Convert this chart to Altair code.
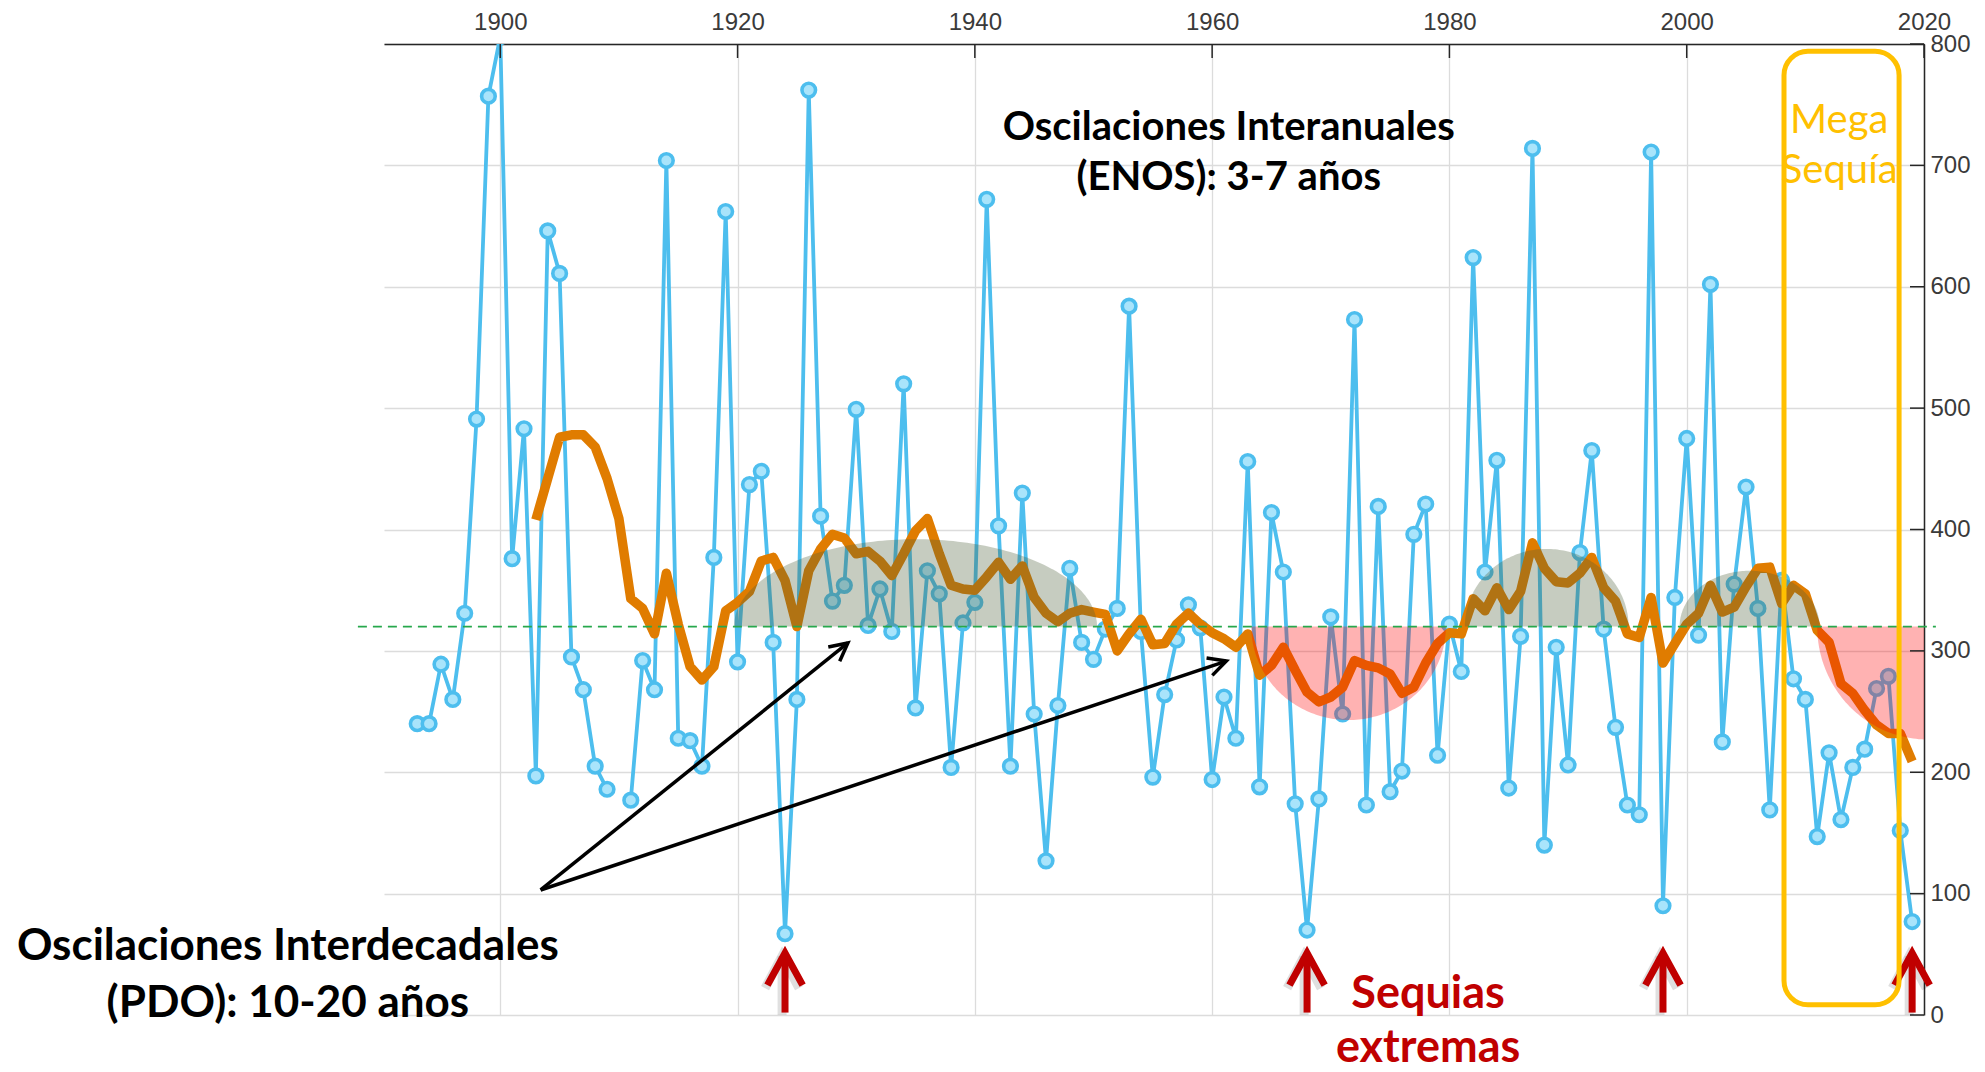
import altair as alt
import numpy as np
import pandas as pd

# ------------------------------------------------------------------ data
years = list(range(1893, 2020))
rain = (
    [240, 240, 289, 260, 331, 491, 757]                              # 1893-1899
    + [806, 376, 483, 197, 646, 611, 295, 268, 205, 186]              # 1900s
    + [None, 177, 292, 268, 704, 228, 226, 205, 377, 662]             # 1910s
    + [291, 437, 448, 307, 67, 260, 762, 411, 341, 354]               # 1920s
    + [499, 321, 351, 316, 520, 253, 366, 347, 204, 323]              # 1930s
    + [340, 672, 403, 205, 430, 248, 127, 255, 368, 307]              # 1940s
    + [293, 318, 335, 584, 316, 196, 264, 309, 338, 319]              # 1950s
    + [194, 262, 228, 456, 188, 414, 365, 174, 70, 178]               # 1960s
    + [328, 248, 573, 173, 419, 184, 201, 396, 421, 214]              # 1970s
    + [322, 283, 624, 365, 457, 187, 312, 714, 140, 303]              # 1980s
    + [206, 381, 465, 318, 237, 173, 165, 711, 90, 344]               # 1990s
    + [475, 313, 602, 225, 355, 435, 335, 169, 358, 277]              # 2000s
    + [260, 147, 216, 161, 204, 219, 269, 279, 152, 77]               # 2010s
)

trend_years = list(range(1903, 2020))
trend = (
    [408, 442, 476, 478, 478, 468, 442]
    + [409, 343, 335, 314, 364, 322, 287, 276, 287, 333]
    + [340, 349, 374, 377, 358, 320, 366, 384, 396, 393]
    + [380, 382, 374, 362, 380, 399, 409, 380, 354, 351]
    + [350, 361, 373, 359, 370, 344, 331, 324, 331, 334]
    + [332, 330, 300, 314, 326, 305, 306, 322, 331, 322]
    + [315, 310, 303, 314, 280, 288, 303, 284, 266, 258]
    + [262, 270, 292, 288, 286, 281, 265, 270, 290, 306]
    + [315, 314, 343, 333, 352, 334, 349, 389, 368, 357]
    + [356, 364, 377, 352, 341, 314, 311, 344, 290, 306]
    + [322, 331, 354, 332, 336, 353, 368, 369, 339, 354]
    + [347, 317, 307, 273, 265, 251, 239, 232, 232, 209]
)

x_ticks = [1900, 1920, 1940, 1960, 1980, 2000, 2020]
y_ticks = [0, 100, 200, 300, 400, 500, 600, 700, 800]

ref_level = 320
green_cx = [1935.0, 1988.2, 2005.3]
green_halfwidth = [15.3, 6.9, 5.9]
green_height = [72, 64, 46]
red_cx = [1971.5, 2020.3]
red_halfwidth = [8.2, 9.3]
red_depth = [77, 93]

drought_years = [1924, 1968, 1998, 2019]

top_lines = ["Oscilaciones Interanuales", "(ENOS): 3-7 años"]
left_lines = ["Oscilaciones Interdecadales", "(PDO): 10-20 años"]
drought_lines = ["Sequias", "extremas"]
mega_lines = ["Mega", "Sequía"]

# ------------------------------------------------------------------ styling
W, H = 1540, 971
BLUE = "#4DBEEE"
ORANGE = "#E07C00"
DARKRED = "#C00000"
GOLD = "#FFC000"

xs = alt.Scale(domain=[1890.2, 2020], nice=False, zero=False)
ys = alt.Scale(domain=[0, 800], nice=False, zero=False)

x_axis = alt.Axis(orient="top", values=x_ticks, format="d", grid=True,
                  gridColor="#dcdcdc", gridWidth=1.3, domainColor="#262626",
                  domainWidth=1.5, ticks=False, tickSize=0,
                  labelFont="Liberation Sans", labelFontSize=24,
                  labelColor="#3a3a3a", labelPadding=10, labelFlush=False,
                  labelOverlap=False, title=None)
y_axis = alt.Axis(orient="right", values=y_ticks, format="d", grid=True,
                  gridColor="#dcdcdc", gridWidth=1.3, domainColor="#262626",
                  domainWidth=1.5, ticks=False, tickSize=0,
                  labelFont="Liberation Sans", labelFontSize=24,
                  labelColor="#3a3a3a", labelPadding=6, labelFlush=False,
                  labelOverlap=False, title=None)


def X(f):
    return alt.X(f, type="quantitative", scale=xs, axis=x_axis, title=None)


def Y(f):
    return alt.Y(f, type="quantitative", scale=ys, axis=y_axis, title=None)


# ------------------------------------------------------------------ tables
rain_df = pd.DataFrame({"year": years, "value": rain}).dropna()
rain_df["seg"] = (rain_df["year"] > 1910).astype(int)
trend_df = pd.DataFrame({"year": trend_years, "value": trend})


def ellipse_rows(cxs, aws, hs, sign):
    rows = []
    t = np.linspace(0, np.pi, 121)
    for i, (cx, a, h) in enumerate(zip(cxs, aws, hs)):
        for tt in t:
            rows.append({"id": i, "x": cx - a * np.cos(tt),
                         "y": ref_level + sign * h * np.sin(tt),
                         "b": ref_level})
    return pd.DataFrame(rows)


green_df = ellipse_rows(green_cx, green_halfwidth, green_height, 1)
red_df = ellipse_rows(red_cx, red_halfwidth, red_depth, -1)

xtick_df = pd.DataFrame({"year": x_ticks})
ytick_df = pd.DataFrame({"v": y_ticks})

ref_df = pd.DataFrame({"x0": [1888.0], "x1": [2021.0], "y": [ref_level]})

arrow_df = pd.DataFrame({"x0": [1903.4, 1903.4], "y0": [103, 103],
                         "x1": [1929.3, 1961.2], "y1": [306.5, 291.6],
                         "ang": [321.2, 341.5]})

drought_df = pd.DataFrame({"year": drought_years,
                           "lo": [2] * 4, "hi": [51] * 4})
shadow_df = pd.DataFrame({"year": [y - 0.25 for y in drought_years],
                          "lo": [0] * 4, "hi": [48.5] * 4})

box_df = pd.DataFrame({"x0": [2008.2], "x1": [2017.9], "y0": [794], "y1": [8.5]})

top_df = pd.DataFrame({"t": top_lines, "x": [1961.4] * 2, "y": [720.5, 679.5]})
left_df = pd.DataFrame({"t": left_lines, "x": [1882.1] * 2, "y": [45.3, -1.5]})
dr_df = pd.DataFrame({"t": drought_lines, "x": [1978.2] * 2, "y": [5.8, -38.7]})
mega_df = pd.DataFrame({"t": mega_lines, "x": [2012.85] * 2, "y": [726.4, 685.2]})

# ------------------------------------------------------------------ layers
blue_line = alt.Chart(rain_df).mark_line(
    color=BLUE, strokeWidth=3.8, clip=True
).encode(x=X("year"), y=Y("value"), detail="seg:N")

blue_pts = alt.Chart(rain_df).mark_point(
    shape="circle", size=185, fill="#a9e4fb", stroke=BLUE, strokeWidth=3.6,
    opacity=1, fillOpacity=1, clip=True
).encode(x=X("year"), y=Y("value"))

orange_line = alt.Chart(trend_df).mark_line(
    color=ORANGE, strokeWidth=9.5, strokeJoin="round", strokeCap="butt"
).encode(x=X("year"), y=Y("value"))

green_area = alt.Chart(green_df).mark_area(
    color="#4d5f3a", opacity=0.32, orient="vertical"
).encode(x=X("x"), y=Y("y"), y2="b:Q", detail="id:N")

red_area = alt.Chart(red_df).mark_area(
    color="#ff0000", opacity=0.3, orient="vertical", clip=True
).encode(x=X("x"), y=Y("y"), y2="b:Q", detail="id:N")

ref_rule = alt.Chart(ref_df).mark_rule(
    color="#27a84c", strokeDash=[9, 6], strokeWidth=1.6
).encode(x=X("x0"), x2="x1:Q", y=Y("y"))

xticks = alt.Chart(xtick_df).mark_rule(color="#262626", strokeWidth=1.5).encode(
    x=X("year"), y=alt.value(0), y2=alt.value(14))
yticks = alt.Chart(ytick_df).mark_rule(color="#262626", strokeWidth=1.5).encode(
    y=Y("v"), x=alt.value(W - 14), x2=alt.value(W))

arrows = alt.Chart(arrow_df).mark_rule(color="black", strokeWidth=3.5).encode(
    x=X("x0"), y=Y("y0"), x2="x1:Q", y2="y1:Q")
heads = alt.Chart(arrow_df).mark_point(
    shape="M -1 -0.51 L 0 0 L -1 0.51", filled=False, stroke="black",
    strokeWidth=3.5, size=1275, opacity=1
).encode(x=X("x1"), y=Y("y1"), angle=alt.Angle("ang:Q", scale=None))

sh_shafts = alt.Chart(shadow_df).mark_rule(
    color="black", strokeWidth=9, opacity=0.12
).encode(x=X("year"), y=Y("lo"), y2="hi:Q")
sh_heads = alt.Chart(shadow_df).mark_point(
    shape="M -0.53 1 L 0 0 L 0.53 1", filled=False, stroke="black",
    strokeWidth=9, size=4096, opacity=0.12
).encode(x=X("year"), y=Y("hi"))

dr_shafts = alt.Chart(drought_df).mark_rule(color=DARKRED, strokeWidth=7).encode(
    x=X("year"), y=Y("lo"), y2="hi:Q")
dr_heads = alt.Chart(drought_df).mark_point(
    shape="M -0.55 1 L 0 0 L 0.55 1", filled=False, stroke=DARKRED,
    strokeWidth=7, size=4096, opacity=1
).encode(x=X("year"), y=Y("hi"))

box = alt.Chart(box_df).mark_rect(
    fillOpacity=0, stroke=GOLD, strokeWidth=5, cornerRadius=24
).encode(x=X("x0"), x2="x1:Q", y=Y("y0"), y2="y1:Q")

top_txt = alt.Chart(top_df).mark_text(
    font="Lato", fontWeight="bold", fontSize=40, color="black",
    align="center", baseline="alphabetic"
).encode(x=X("x"), y=Y("y"), text="t:N")
left_txt = alt.Chart(left_df).mark_text(
    font="Lato", fontWeight="bold", fontSize=44, color="black",
    align="center", baseline="alphabetic"
).encode(x=X("x"), y=Y("y"), text="t:N")
dr_txt = alt.Chart(dr_df).mark_text(
    font="Lato", fontWeight="bold", fontSize=45, color=DARKRED,
    align="center", baseline="alphabetic"
).encode(x=X("x"), y=Y("y"), text="t:N")
mega_txt = alt.Chart(mega_df).mark_text(
    font="Lato", fontSize=40, color=GOLD,
    align="center", baseline="alphabetic"
).encode(x=X("x"), y=Y("y"), text="t:N")

chart = alt.layer(
    blue_line, blue_pts, orange_line, green_area, red_area, ref_rule,
    xticks, yticks, arrows, heads, sh_shafts, sh_heads, dr_shafts, dr_heads,
    box, top_txt, left_txt, dr_txt, mega_txt,
).properties(
    width=W, height=H,
    padding={"left": 376, "top": 36, "right": 52, "bottom": 56},
    autosize=alt.AutoSizeParams(type="none"),
).configure_view(stroke="transparent")

chart.save("out.html", embed_options={"renderer": "svg", "actions": False})
